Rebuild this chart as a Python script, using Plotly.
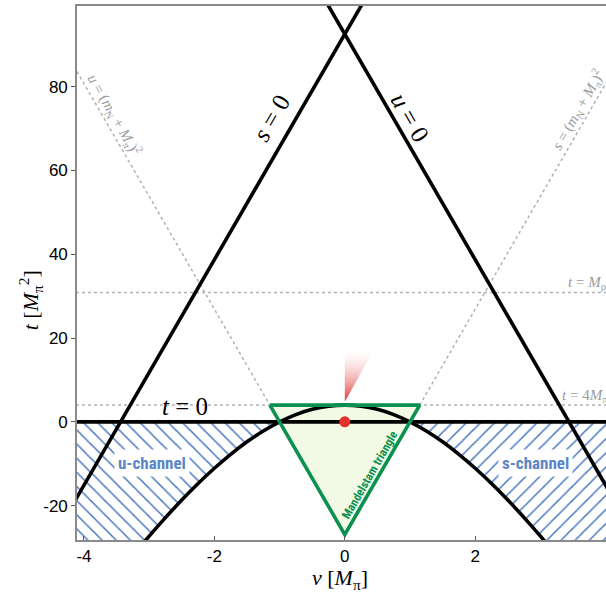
import plotly.graph_objects as go

# ---------------- data ----------------
# physical-region boundary (hyperbola) nu [M_pi], t [M_pi^2]
nu_hyp = [-3.2, -3.0, -2.75, -2.5, -2.25, -2.0, -1.75, -1.5, -1.25, -1.0, -0.75, -0.5, -0.25, 0.0,
          0.25, 0.5, 0.75, 1.0, 1.25, 1.5, 1.75, 2.0, 2.25, 2.5, 2.75, 3.0, 3.2]
t_hyp = [-30.98, -27.28, -22.86, -18.66, -14.73, -11.08, -7.75, -4.77, -2.18, 0.0, 1.73, 2.98, 3.74, 4.0,
         3.74, 2.98, 1.73, 0.0, -2.18, -4.77, -7.75, -11.08, -14.73, -18.66, -22.86, -27.28, -30.98]

s0_nu = [-4.2, 0.4]
s0_t = [-20.5, 103.3]
u0_nu = [-0.4, 4.2]
u0_t = [103.3, -20.5]
t0_nu = [-4.2, 4.2]
t0_t = [0.0, 0.0]

uthr_nu = [-4.2, -1.149]
uthr_t = [86.1, 4.0]
sthr_nu = [1.149, 4.2]
sthr_t = [4.0, 86.1]

hlines_t = [4.0, 30.86]

tri_nu = [-1.149, 1.149, 0.0, -1.149]
tri_t = [4.0, 4.0, -26.9, 4.0]

wedge_nu = [0.0, 0.0, 0.445, 0.0]
wedge_t = [4.8, 17.2, 17.2, 4.8]

dot_nu = [0.0]
dot_t = [0.0]

xtick_vals = [-4, -2, 0, 2, 4]
xtick_text = ["-4", "-2", "0", "2", "4"]
ytick_vals = [-20, 0, 20, 40, 60, 80]
ytick_text = ["-20", "0", "20", "40", "60", "80"]

XR = [-4.107, 4.006]
YR = [-28.2, 99.25]

BLACK_W = 3.6
GREEN = "#0a9150"
HATCH = "#4675c0"
LABEL_BLUE = "#5a86c6"
DOT_GRAY = "#b0b0b0"
SERIF = "Liberation Serif, Times New Roman, serif"
SANS = "Liberation Sans, Arial, sans-serif"
NARROW = "Liberation Sans Narrow, Arial Narrow, Roboto Condensed, Liberation Sans, sans-serif"

fig = go.Figure()

# ---------------- hatched channel regions ----------------
left_idx = [i for i, v in enumerate(nu_hyp) if v <= -1.0]
left_idx = sorted(left_idx, key=lambda i: -nu_hyp[i])  # from -1 outward
u_poly_nu = [XR[0] - 0.2] + [nu_hyp[i] for i in left_idx] + [XR[0] - 0.2]
u_poly_t = [0.0] + [t_hyp[i] for i in left_idx] + [t_hyp[left_idx[-1]]]

right_idx = [i for i, v in enumerate(nu_hyp) if v >= 1.0]
s_poly_nu = [XR[1] + 0.2] + [nu_hyp[i] for i in right_idx] + [XR[1] + 0.2]
s_poly_t = [0.0] + [t_hyp[i] for i in right_idx] + [t_hyp[right_idx[-1]]]

for pnu, pt, shape in [(u_poly_nu, u_poly_t, "\\"), (s_poly_nu, s_poly_t, "/")]:
    fig.add_trace(go.Scatter(
        x=pnu, y=pt, mode="lines", fill="toself", line=dict(width=0, color="rgba(0,0,0,0)"),
        fillcolor="white",
        fillpattern=dict(shape=shape, fgcolor=HATCH, fgopacity=1, bgcolor="white",
                         size=10, solidity=0.15),
        hoverinfo="skip", showlegend=False))

# ---------------- Mandelstam triangle fill ----------------
fig.add_trace(go.Scatter(x=tri_nu, y=tri_t, mode="lines", fill="toself",
                         fillcolor="#f2fae6", line=dict(width=0),
                         hoverinfo="skip", showlegend=False))

# ---------------- dotted threshold lines ----------------
for xs, ys in [(uthr_nu, uthr_t), (sthr_nu, sthr_t)]:
    fig.add_trace(go.Scatter(x=xs, y=ys, mode="lines",
                             line=dict(color=DOT_GRAY, width=1.5, dash="dot"),
                             hoverinfo="skip", showlegend=False))
for tv in hlines_t:
    fig.add_trace(go.Scatter(x=[XR[0] - 0.2, XR[1] + 0.2], y=[tv, tv], mode="lines",
                             line=dict(color=DOT_GRAY, width=1.5, dash="dot"),
                             hoverinfo="skip", showlegend=False))

# ---------------- black lines ----------------
for xs, ys in [(s0_nu, s0_t), (u0_nu, u0_t), (t0_nu, t0_t)]:
    fig.add_trace(go.Scatter(x=xs, y=ys, mode="lines",
                             line=dict(color="black", width=BLACK_W),
                             hoverinfo="skip", showlegend=False))
fig.add_trace(go.Scatter(x=nu_hyp, y=t_hyp, mode="lines",
                         line=dict(color="black", width=BLACK_W, shape="spline", smoothing=1.0),
                         hoverinfo="skip", showlegend=False))

# ---------------- triangle outline ----------------
fig.add_trace(go.Scatter(x=tri_nu, y=tri_t, mode="lines",
                         line=dict(color=GREEN, width=3.6),
                         hoverinfo="skip", showlegend=False))

# ---------------- red wedge and dot ----------------
fig.add_trace(go.Scatter(x=wedge_nu, y=wedge_t, mode="lines", fill="toself",
                         line=dict(width=0),
                         fillgradient=dict(type="vertical",
                                           colorscale=[[0, "rgba(222,40,40,0.95)"],
                                                       [1, "rgba(255,255,255,0.2)"]]),
                         hoverinfo="skip", showlegend=False))
fig.add_trace(go.Scatter(x=dot_nu, y=dot_t, mode="markers",
                         marker=dict(color="#e2302a", size=11),
                         hoverinfo="skip", showlegend=False))

# ---------------- annotations ----------------
ann = []
def add(x, y, text, size, color="black", angle=0, family=SERIF, xanchor="center",
        yanchor="middle", xref="x", yref="y", bg=None):
    d = dict(x=x, y=y, xref=xref, yref=yref, text=text, showarrow=False, textangle=angle,
             font=dict(size=size, color=color, family=family), xanchor=xanchor, yanchor=yanchor)
    if bg:
        d["bgcolor"] = bg
        d["borderpad"] = 3
    ann.append(d)

add(-1.12, 72.6, "<i>s</i> = 0", 25, angle=-60)
add(1.0, 72.6, "<i>u</i> = 0", 25, angle=60)
add(-2.45, 3.6, "<i>t</i> = 0", 25)
add(-3.53, 73.3, "<i>u</i> = (<i>m</i><sub>N</sub> + <i>M</i><sub>π</sub>)<sup>2</sup>", 15,
    color="#9a9a9a", angle=60)
add(3.57, 74.5, "<i>s</i> = (<i>m</i><sub>N</sub> + <i>M</i><sub>π</sub>)<sup>2</sup>", 15,
    color="#9a9a9a", angle=-60)
add(3.40, 33.4, "<i>t</i> = <i>M</i><sub>ρ</sub><sup>2</sup>", 15, color="#9a9a9a", xanchor="left")
add(3.30, 6.4, "<i>t</i> = 4<i>M</i><sub>π</sub><sup>2</sup>", 15, color="#9a9a9a", xanchor="left")
add(-2.96, -9.8, "<b>u-channel</b>", 17, color=LABEL_BLUE, family=NARROW, bg="white")
add(2.93, -9.8, "<b>s-channel</b>", 17, color=LABEL_BLUE, family=NARROW, bg="white")
add(0.38, -12.6, "<b>Mandelstam triangle</b>", 12, color=GREEN, family=NARROW, angle=-60)
add(0.497, -0.073, "<i>ν</i> [<i>M</i><sub>π</sub>]", 22, xref="paper", yref="paper")
add(-0.0888, 0.449, "<i>t</i> [<i>M</i><sub>π</sub><sup>2</sup>]", 22, angle=-90,
    xref="paper", yref="paper")

fig.update_layout(
    width=606, height=593,
    margin=dict(l=77, r=0, t=6, b=53),
    paper_bgcolor="white", plot_bgcolor="white",
    annotations=ann,
    xaxis=dict(range=XR, showgrid=False, zeroline=False, showline=True, linecolor="#8a8a8a",
               linewidth=1.6, mirror=True, ticks="inside", ticklen=4, tickcolor="#555",
               tickvals=xtick_vals, ticktext=xtick_text,
               tickfont=dict(family=SANS, size=17, color="black")),
    yaxis=dict(range=YR, showgrid=False, zeroline=False, showline=True, linecolor="#8a8a8a",
               linewidth=1.6, mirror=False, ticks="outside", ticklen=4, tickcolor="#555",
               tickvals=ytick_vals, ticktext=ytick_text,
               tickfont=dict(family=SANS, size=17, color="black")),
)

fig.write_html("out.html")
